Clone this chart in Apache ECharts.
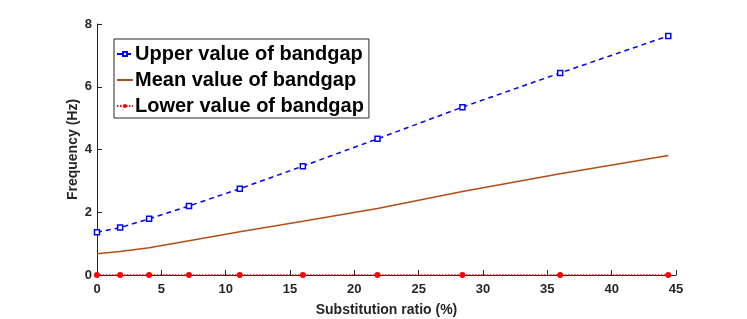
<!DOCTYPE html>
<html>
<head>
<meta charset="utf-8">
<script src="https://cdn.jsdelivr.net/npm/echarts@6/dist/echarts.min.js"></script>
<style>html,body{margin:0;padding:0;background:#fff}#c{width:747px;height:319px}</style>
</head>
<body>
<div id="c"></div>
<script>
const ratio = [0, 1.8, 4.05, 7.15, 11.1, 16.0, 21.8, 28.4, 36.0, 44.4];
const upperValues = [1.36, 1.51, 1.79, 2.20, 2.75, 3.47, 4.34, 5.35, 6.44, 7.62];
const meanValues = [0.68, 0.75, 0.87, 1.09, 1.38, 1.71, 2.12, 2.66, 3.23, 3.81];
const lowerValues = [0, 0, 0, 0, 0, 0, 0, 0, 0, 0];
const seriesNames = ['Upper value of bandgap', 'Mean value of bandgap', 'Lower value of bandgap'];

const pair = (xs, ys) => xs.map((x, i) => [x, ys[i]]);
const font = 'Liberation Sans, Arial, Helvetica, sans-serif';
const axisColor = '#262626';

const chart = echarts.init(document.getElementById('c'), null, {renderer: 'canvas'});
chart.setOption({
  animation: false,
  backgroundColor: '#fff',
  grid: {left: 97, right: 71, top: 24, bottom: 44, containLabel: false, outerBoundsMode: 'none'},
  xAxis: {
    type: 'value', min: 0, max: 45, interval: 5,
    name: 'Substitution ratio (%)', nameLocation: 'middle', nameGap: 28, nameMoveOverlap: false,
    nameTextStyle: {fontFamily: font, fontWeight: 'bold', fontSize: 14, color: axisColor},
    axisLine: {show: true, lineStyle: {color: axisColor, width: 1}},
    axisTick: {show: true, inside: true, length: 5, lineStyle: {color: axisColor}},
    axisLabel: {margin: 8, fontFamily: font, fontWeight: 'bold', fontSize: 13, color: axisColor},
    splitLine: {show: false}
  },
  yAxis: {
    type: 'value', min: 0, max: 8, interval: 2,
    name: 'Frequency (Hz)', nameLocation: 'middle', nameGap: 17, nameMoveOverlap: false,
    nameTextStyle: {fontFamily: font, fontWeight: 'bold', fontSize: 14, color: axisColor},
    axisLine: {show: true, lineStyle: {color: axisColor, width: 1}},
    axisTick: {show: true, inside: true, length: 5, lineStyle: {color: axisColor}},
    axisLabel: {margin: 5, fontFamily: font, fontWeight: 'bold', fontSize: 13, color: axisColor},
    splitLine: {show: false}
  },
  legend: {
    orient: 'vertical', left: 114, top: 39,
    backgroundColor: '#fff', borderColor: axisColor, borderWidth: 1, borderRadius: 0,
    padding: [5, 5, 2, 2], itemWidth: 16, itemHeight: 5, itemGap: 6,
    textStyle: {fontFamily: font, fontWeight: 'bold', fontSize: 20, color: '#000', padding: [0, 0, 0, -3]},
    data: [
      {name: seriesNames[0]},
      {name: seriesNames[1], itemStyle: {opacity: 0}},
      {name: seriesNames[2]}
    ]
  },
  series: [
    {
      name: seriesNames[0], type: 'line', data: pair(ratio, upperValues),
      symbol: 'rect', symbolSize: 5, showAllSymbol: true,
      lineStyle: {color: '#0000ff', width: 1.5, type: [5, 4]},
      itemStyle: {color: '#ffffff', borderColor: '#0000ff', borderWidth: 1.5},
      z: 3
    },
    {
      name: seriesNames[1], type: 'line', data: pair(ratio, meanValues),
      symbol: 'none', smooth: false,
      lineStyle: {color: '#b34d17', width: 1.5},
      itemStyle: {color: '#b34d17'},
      z: 2
    },
    {
      name: seriesNames[2], type: 'line', data: pair(ratio, lowerValues),
      symbol: 'circle', symbolSize: 6, showAllSymbol: true,
      lineStyle: {color: '#ff0000', width: 1.5, type: [1.5, 1.5]},
      itemStyle: {color: '#ff0000'},
      z: 4
    }
  ]
});
</script>
</body>
</html>
